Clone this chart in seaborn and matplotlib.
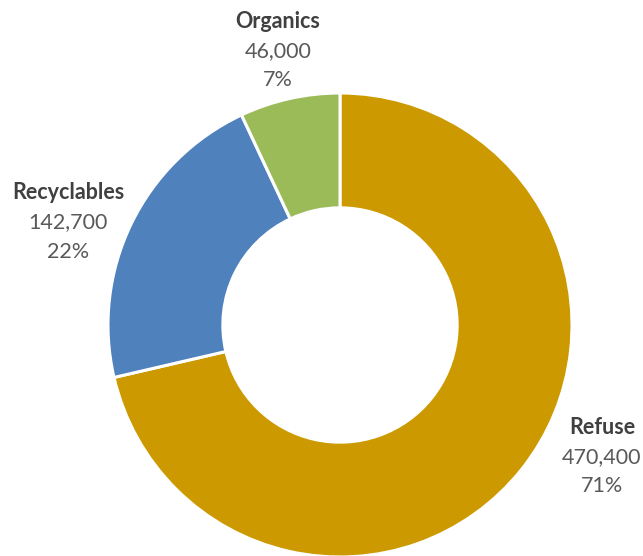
import matplotlib
matplotlib.use("Agg")
import matplotlib.pyplot as plt
import seaborn as sns

# Waste stream tonnage
categories = ["Refuse", "Recyclables", "Organics"]
tonnage = [470400, 142700, 46000]
colors = ["#CC9900", "#4F81BD", "#9BBB59"]

# Label anchor points (pixel layout, y measured from top)
label_pos = {"Refuse": (602, 457), "Recyclables": (68, 222), "Organics": (278, 51)}

sns.set_theme(style="white")
plt.rcParams["font.family"] = ["Lato", "DejaVu Sans"]

W, H = 643, 556
fig = plt.figure(figsize=(W / 100, H / 100), dpi=100)
ax = fig.add_axes([0, 0, 1, 1])

cx, cy, R = 340, H - 325, 232
ax.pie(
    tonnage,
    colors=colors,
    startangle=90,
    counterclock=False,
    center=(cx, cy),
    radius=R,
    wedgeprops=dict(width=R * 0.495, edgecolor="white", linewidth=2.2),
    frame=True,
)
ax.set_xlim(0, W)
ax.set_ylim(0, H)
ax.set_aspect("equal")
ax.axis("off")

total = sum(tonnage)
line = 29.5
fs = 15.5
for cat, val in zip(categories, tonnage):
    x, y = label_pos[cat]
    y = H - y
    ax.text(x, y + line, cat, ha="center", va="center", fontsize=fs,
            fontweight="bold", color="#404040")
    ax.text(x, y, f"{val:,}", ha="center", va="center", fontsize=fs,
            color="#595959")
    ax.text(x, y - line, f"{round(val / total * 100)}%", ha="center",
            va="center", fontsize=fs, color="#595959")

fig.savefig("out.png", dpi=100)
